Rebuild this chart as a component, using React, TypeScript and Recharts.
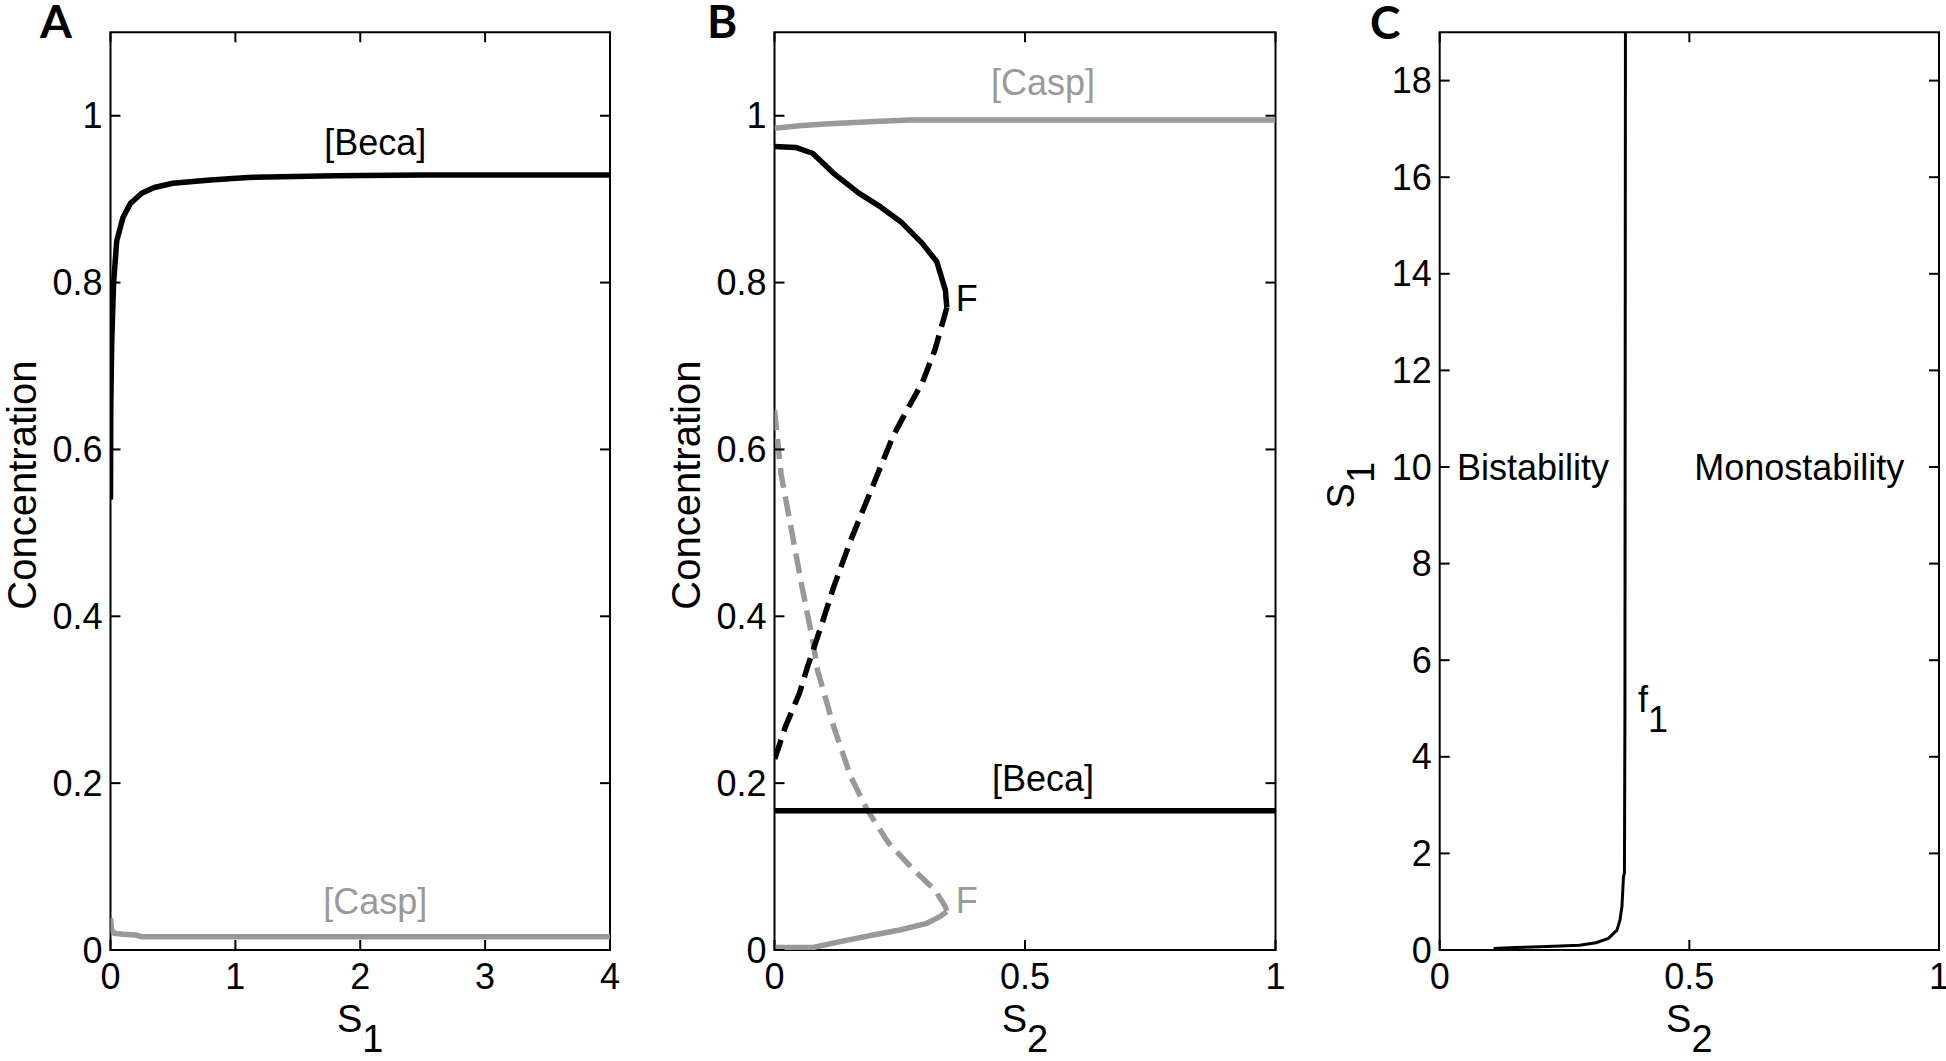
import React from 'react';
import { ComposedChart, Line, XAxis, YAxis, Scatter, ReferenceArea, Label } from 'recharts';

const FONT = '"Liberation Sans", Arial, Helvetica, sans-serif';
const BLACK = '#000000';
const GRAY = '#999999';
const GRAY_TEXT = '#9a9a9a';

// ---------- Panel A ----------
const aBecaX = [0, 0.002, 0.01, 0.025, 0.05, 0.1, 0.16, 0.25, 0.35, 0.5, 0.8, 1.1, 1.8, 2.5, 3, 4];
const aBecaY = [0.54, 0.65, 0.73, 0.8, 0.85, 0.878, 0.895, 0.907, 0.914, 0.919, 0.923, 0.926, 0.928, 0.929, 0.929, 0.929];
const aCaspX = [0, 0.01, 0.03, 0.1, 0.2, 0.25, 1, 2, 3, 4];
const aCaspY = [0.038, 0.024, 0.02, 0.019, 0.018, 0.016, 0.016, 0.016, 0.016, 0.016];
const aXTicks = [0, 1, 2, 3, 4];
const aXDomain = [0, 4];
const concTicks = [0, 0.2, 0.4, 0.6, 0.8, 1];
const concDomain = [0, 1.1];
const aNotes = [
  { x: 2.12, y: 0.968, text: '[Beca]', color: BLACK },
  { x: 2.12, y: 0.058, text: '[Casp]', color: GRAY_TEXT },
];

// ---------- Panel B ----------
const bCaspUpX = [0, 0.05, 0.1, 0.2, 0.27, 0.5, 1];
const bCaspUpY = [0.985, 0.988, 0.99, 0.993, 0.995, 0.995, 0.995];
const bBecaUpX = [0, 0.042, 0.076, 0.118, 0.169, 0.211, 0.252, 0.295, 0.324, 0.341, 0.344];
const bBecaUpY = [0.963, 0.962, 0.955, 0.931, 0.907, 0.891, 0.873, 0.847, 0.825, 0.791, 0.77];
const bBecaMidX = [0.344, 0.337, 0.32, 0.295, 0.265, 0.236, 0.19, 0.152, 0.118, 0.093, 0.064, 0.05, 0.022, 0];
const bBecaMidY = [0.77, 0.755, 0.719, 0.68, 0.648, 0.615, 0.547, 0.491, 0.435, 0.388, 0.336, 0.308, 0.268, 0.228];
const bCaspMidX = [0, 0.013, 0.034, 0.055, 0.076, 0.086, 0.118, 0.152, 0.185, 0.228, 0.278, 0.32, 0.341, 0.344];
const bCaspMidY = [0.647, 0.571, 0.503, 0.435, 0.372, 0.335, 0.268, 0.208, 0.168, 0.128, 0.096, 0.072, 0.052, 0.046];
const bCaspLowX = [0, 0.077, 0.131, 0.197, 0.25, 0.304, 0.33, 0.344];
const bCaspLowY = [0.003, 0.003, 0.01, 0.018, 0.024, 0.032, 0.04, 0.046];
const bBecaLowX = [0, 1];
const bBecaLowY = [0.167, 0.167];
const bXTicks = [0, 0.5, 1];
const unitDomain = [0, 1];
const bNotes = [
  { x: 0.536, y: 1.04, text: '[Casp]', color: GRAY_TEXT, anchor: 'middle' },
  { x: 0.536, y: 0.206, text: '[Beca]', color: BLACK, anchor: 'middle' },
  { x: 0.362, y: 0.781, text: 'F', color: BLACK, anchor: 'start' },
  { x: 0.362, y: 0.06, text: 'F', color: GRAY_TEXT, anchor: 'start' },
];

// ---------- Panel C ----------
const cF1X = [0.108, 0.15, 0.215, 0.28, 0.313, 0.338, 0.355, 0.361, 0.365, 0.368, 0.37, 0.371, 0.372];
const cF1Y = [0.03, 0.05, 0.07, 0.1, 0.15, 0.24, 0.41, 0.62, 0.9, 1.5, 1.6, 5, 19];
const cYTicks = [0, 2, 4, 6, 8, 10, 12, 14, 16, 18];
const cYDomain = [0, 19];
const cNotes = [
  { x: 0.187, y: 10, text: 'Bistability', color: BLACK, anchor: 'middle' },
  { x: 0.72, y: 10, text: 'Monostability', color: BLACK, anchor: 'middle' },
  { x: 0.397, y: 5.18, text: 'f', sub: '1', color: BLACK, anchor: 'start' },
];

const zip = (xs: number[], ys: number[]) => xs.map((x, i) => ({ x, y: ys[i] }));

const TICK_FS = 36;
const LABEL_FS = 38;
const TICK_LEN = 10;
const CH = 1061;
const AXIS_W = 60;
const AXIS_H = 60;
const LW = 5.5;

type PanelProps = {
  left: number;
  width: number;
  margin: { top: number; right: number; bottom: number; left: number };
  xDomain: number[];
  xTicks: number[];
  yDomain: number[];
  yTicks: number[];
  xLabel: { main: string; sub: string };
  yLabel: { main: string; sub?: string };
  notes: any[];
  children: React.ReactNode;
};

function Panel(p: PanelProps) {
  const top = p.margin.top;
  const right = p.width - p.margin.right;
  const XTick = (props: any) => {
    const { x, y, payload } = props;
    return (
      <g>
        <line x1={x} x2={x} y1={y} y2={y - TICK_LEN} stroke={BLACK} strokeWidth={2} />
        <line x1={x} x2={x} y1={top} y2={top + TICK_LEN} stroke={BLACK} strokeWidth={2} />
        <text x={x} y={y + 39} textAnchor="middle" fontSize={TICK_FS} fontFamily={FONT} fill={BLACK}>
          {String(payload.value)}
        </text>
      </g>
    );
  };
  const YTick = (props: any) => {
    const { x, y, payload } = props;
    return (
      <g>
        <line x1={x} x2={x + TICK_LEN} y1={y} y2={y} stroke={BLACK} strokeWidth={2} />
        <line x1={right - TICK_LEN} x2={right} y1={y} y2={y} stroke={BLACK} strokeWidth={2} />
        <text x={x - 8} y={y} dy="0.35em" textAnchor="end" fontSize={TICK_FS} fontFamily={FONT} fill={BLACK}>
          {String(payload.value)}
        </text>
      </g>
    );
  };
  const XLabel = (props: any) => {
    const vb = props.viewBox;
    const cx = vb.x + vb.width / 2;
    return (
      <text x={cx} y={vb.y + 82} textAnchor="middle" fontSize={LABEL_FS} fontFamily={FONT} fill={BLACK}>
        {p.xLabel.main}
        <tspan dy={20}>{p.xLabel.sub}</tspan>
      </text>
    );
  };
  const YLabel = (props: any) => {
    const vb = props.viewBox;
    const bx = vb.x + vb.width - (p.yLabel.sub ? 86 : 75);
    const cy = vb.y + vb.height / 2 - 6;
    return (
      <text
        transform={`translate(${bx}, ${cy}) rotate(-90)`}
        textAnchor="middle"
        fontSize={p.yLabel.sub ? LABEL_FS : 40}
        fontFamily={FONT}
        fill={BLACK}
      >
        {p.yLabel.main}
        {p.yLabel.sub ? <tspan dy={20}>{p.yLabel.sub}</tspan> : null}
      </text>
    );
  };
  const NoteShape = (props: any) => {
    const { cx, cy, payload } = props;
    return (
      <text
        x={cx}
        y={cy}
        dy="0.35em"
        textAnchor={payload.anchor || 'middle'}
        fontSize={TICK_FS}
        fontFamily={FONT}
        fill={payload.color}
      >
        {payload.text}
        {payload.sub ? <tspan dy={20}>{payload.sub}</tspan> : null}
      </text>
    );
  };
  return (
    <div style={{ position: 'absolute', left: p.left, top: 0, width: p.width, height: CH }}>
      <ComposedChart width={p.width} height={CH} margin={p.margin}>
        <XAxis
          dataKey="x"
          type="number"
          domain={p.xDomain}
          ticks={p.xTicks}
          interval={0}
          allowDataOverflow
          height={AXIS_H}
          axisLine={false}
          tickLine={false}
          tickSize={0}
          tickMargin={0}
          tick={XTick}
        >
          <Label content={XLabel} />
        </XAxis>
        <YAxis
          dataKey="y"
          type="number"
          domain={p.yDomain}
          ticks={p.yTicks}
          interval={0}
          allowDataOverflow
          width={AXIS_W}
          axisLine={false}
          tickLine={false}
          tickSize={0}
          tickMargin={0}
          tick={YTick}
        >
          <Label content={YLabel} />
        </YAxis>
        <ReferenceArea
          x1={p.xDomain[0]}
          x2={p.xDomain[1]}
          y1={p.yDomain[0]}
          y2={p.yDomain[1]}
          fill="none"
          fillOpacity={0}
          stroke={BLACK}
          strokeWidth={2}
          ifOverflow="visible"
        />
        {p.children}
        <Scatter data={p.notes} dataKey="y" isAnimationActive={false} shape={NoteShape} />
      </ComposedChart>
    </div>
  );
}

const lineProps = { dataKey: 'y', dot: false, isAnimationActive: false, type: 'linear' as const, strokeLinejoin: 'round' as const };

export default function App() {
  const letterStyle = { fontFamily: 'Lato, "Open Sans", sans-serif', fontWeight: 700, fontSize: 46 };
  return (
    <div style={{ position: 'absolute', left: 0, top: 0, width: 1946, height: 1061, background: '#fff', overflow: 'hidden' }}>
      <Panel
        left={0}
        width={660}
        margin={{ top: 32.3, right: 50, bottom: 51, left: 50.5 }}
        xDomain={aXDomain}
        xTicks={aXTicks}
        yDomain={concDomain}
        yTicks={concTicks}
        xLabel={{ main: 'S', sub: '1' }}
        yLabel={{ main: 'Concentration' }}
        notes={aNotes}
      >
        <Line {...lineProps} data={zip(aCaspX, aCaspY)} stroke={GRAY} strokeWidth={LW} />
        <Line {...lineProps} data={zip(aBecaX, aBecaY)} stroke={BLACK} strokeWidth={LW} />
      </Panel>
      <Panel
        left={660}
        width={660}
        margin={{ top: 32.3, right: 44.5, bottom: 51, left: 54.5 }}
        xDomain={unitDomain}
        xTicks={bXTicks}
        yDomain={concDomain}
        yTicks={concTicks}
        xLabel={{ main: 'S', sub: '2' }}
        yLabel={{ main: 'Concentration' }}
        notes={bNotes}
      >
        <Line {...lineProps} data={zip(bCaspUpX, bCaspUpY)} stroke={GRAY} strokeWidth={LW} />
        <Line {...lineProps} data={zip(bCaspLowX, bCaspLowY)} stroke={GRAY} strokeWidth={LW} />
        <Line {...lineProps} data={zip(bCaspMidX, bCaspMidY)} stroke={GRAY} strokeWidth={LW} strokeDasharray="20 9" />
        <Line {...lineProps} data={zip(bBecaMidX, bBecaMidY)} stroke={BLACK} strokeWidth={LW} strokeDasharray="20 9" />
        <Line {...lineProps} data={zip(bBecaUpX, bBecaUpY)} stroke={BLACK} strokeWidth={LW} />
        <Line {...lineProps} data={zip(bBecaLowX, bBecaLowY)} stroke={BLACK} strokeWidth={LW} />
      </Panel>
      <Panel
        left={1320}
        width={626}
        margin={{ top: 32.3, right: 7, bottom: 51, left: 59.7 }}
        xDomain={unitDomain}
        xTicks={bXTicks}
        yDomain={cYDomain}
        yTicks={cYTicks}
        xLabel={{ main: 'S', sub: '2' }}
        yLabel={{ main: 'S', sub: '1' }}
        notes={cNotes}
      >
        <Line {...lineProps} data={zip(cF1X, cF1Y)} stroke={BLACK} strokeWidth={3} />
      </Panel>
      <svg width={1946} height={1061} style={{ position: 'absolute', left: 0, top: 0, pointerEvents: 'none' }}>
        <text x={40} y={38} style={letterStyle as any} fill={BLACK}>A</text>
        <text x={707} y={38} style={letterStyle as any} fill={BLACK}>B</text>
        <text x={1370} y={39} style={letterStyle as any} fill={BLACK}>C</text>
      </svg>
    </div>
  );
}
